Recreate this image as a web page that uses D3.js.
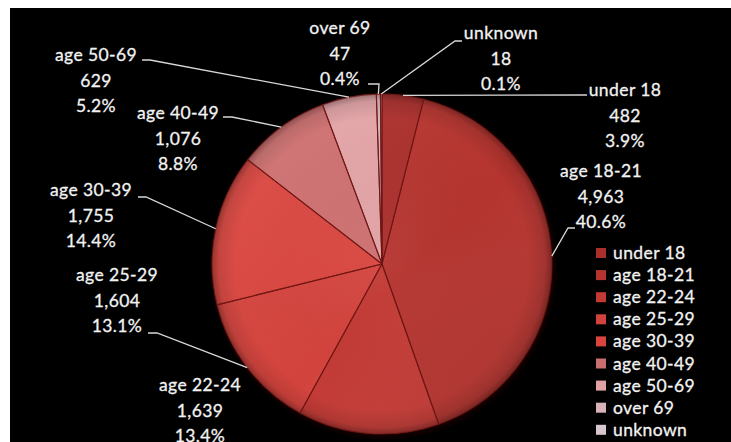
<!DOCTYPE html>
<html>
<head>
<meta charset="utf-8">
<script src="https://cdn.jsdelivr.net/npm/d3@7"></script>
<style>
  html, body { margin: 0; padding: 0; background: #ffffff; }
  svg { display: block; }
  text { font-family: Lato, "Open Sans", sans-serif; fill: #f2f2f2; stroke: #f2f2f2; stroke-width: 0.3px; }
</style>
</head>
<body>
<script>
// Age groups and counts
const categories = ["under 18", "age 18-21", "age 22-24", "age 25-29", "age 30-39",
                    "age 40-49", "age 50-69", "over 69", "unknown"];
const counts = [482, 4963, 1639, 1604, 1755, 1076, 629, 47, 18];

// Slice fills, one per age group
const sliceColors = ["#aa2e2b", "#b5342f", "#c33a35", "#d3433d", "#d9443e",
                     "#cd6e6e", "#e2a2a5", "#d8b2b8", "#d6c6ce"];

// Label placement: text centre x, first-line centre y, and leader polyline
// (start next to the text, then elbow); the last point is on the pie rim.
const labelLayout = [
  { x: 625, y: 90,  lead: [[587, 95], [587, 95]] },
  { x: 601, y: 171, lead: [[575, 228], [568, 228]] },
  { x: 200, y: 385, lead: null },
  { x: 117, y: 275, lead: [[148, 333], [157, 333]] },
  { x: 91,  y: 190, lead: [[138, 197], [146, 197]] },
  { x: 178, y: 113, lead: [[223, 117], [232, 117]] },
  { x: 96,  y: 55,  lead: [[142, 60], [150, 60]] },
  { x: 340, y: 28,  lead: [[368, 84], [379, 84]] },
  { x: 501, y: 33,  lead: [[462, 41], [455, 41]] }
];

const W = 731, H = 442;
const cx = 382, cy = 264, R = 170;
const lineGap = 25.5;
const total = d3.sum(counts);

const svg = d3.select("body").append("svg")
  .attr("width", W).attr("height", H);

// black plot area
svg.append("rect").attr("x", 10).attr("y", 8)
  .attr("width", W - 10).attr("height", H - 8).attr("fill", "#000");

const data = categories.map((c, i) => ({ name: c, value: counts[i], color: sliceColors[i], idx: i }));

const pie = d3.pie().value(d => d.value).sort(null).startAngle(0).endAngle(2 * Math.PI);
const arcs = pie(data);
const arc = d3.arc().innerRadius(0).outerRadius(R);

const defs = svg.append("defs");

// rim shading over the whole pie
const rim = defs.append("radialGradient").attr("id", "rimShade")
  .attr("cx", "50%").attr("cy", "50%").attr("r", "50%");
rim.append("stop").attr("offset", "0%").attr("stop-color", "#fff").attr("stop-opacity", 0.04);
rim.append("stop").attr("offset", "86%").attr("stop-color", "#000").attr("stop-opacity", 0);
rim.append("stop").attr("offset", "96%").attr("stop-color", "#000").attr("stop-opacity", 0.10);
rim.append("stop").attr("offset", "100%").attr("stop-color", "#000").attr("stop-opacity", 0.32);

// top-left light, bottom-right shadow
const tilt = defs.append("linearGradient").attr("id", "tilt")
  .attr("x1", "0%").attr("y1", "0%").attr("x2", "100%").attr("y2", "100%");
tilt.append("stop").attr("offset", "0%").attr("stop-color", "#fff").attr("stop-opacity", 0.08);
tilt.append("stop").attr("offset", "55%").attr("stop-color", "#fff").attr("stop-opacity", 0);
tilt.append("stop").attr("offset", "100%").attr("stop-color", "#000").attr("stop-opacity", 0.12);

// soft shadow behind the pie
const blur = defs.append("filter").attr("id", "soft").attr("x", "-10%").attr("y", "-10%")
  .attr("width", "120%").attr("height", "120%");
blur.append("feGaussianBlur").attr("stdDeviation", 3);

const g = svg.append("g").attr("transform", `translate(${cx},${cy})`);

g.append("circle").attr("r", R + 1).attr("cx", 1.5).attr("cy", 2)
  .attr("fill", "#1a0505").attr("filter", "url(#soft)");

// per-slice clip paths for the inner bevel highlight
arcs.forEach((a, i) => {
  defs.append("clipPath").attr("id", "clip" + i)
    .append("path").attr("d", arc(a)).attr("transform", `translate(${cx},${cy})`);
});

const slices = g.selectAll("g.slice").data(arcs).enter().append("g").attr("class", "slice");

slices.append("path")
  .attr("d", arc)
  .attr("fill", d => d.data.color);

// inner bevel: light band just inside each slice edge
svg.append("g").selectAll("path").data(arcs).enter().append("path")
  .attr("d", arc)
  .attr("transform", `translate(${cx},${cy})`)
  .attr("clip-path", (d, i) => `url(#clip${i})`)
  .attr("fill", "none")
  .attr("stroke", "#fff")
  .attr("stroke-opacity", 0.13)
  .attr("stroke-width", 5);

const shade = svg.append("g").attr("transform", `translate(${cx},${cy})`);
shade.append("circle").attr("r", R).attr("fill", "url(#tilt)");
shade.append("circle").attr("r", R).attr("fill", "url(#rimShade)");

// dark seams between slices
shade.selectAll("path.seam").data(arcs).enter().append("path")
  .attr("class", "seam")
  .attr("d", arc)
  .attr("fill", "none")
  .attr("stroke", "#6e1614")
  .attr("stroke-opacity", 0.85)
  .attr("stroke-width", 1.1)
  .attr("stroke-linejoin", "round");

// leader lines
const rimPoint = a => {
  const m = (a.startAngle + a.endAngle) / 2;
  return [cx + R * Math.sin(m), cy - R * Math.cos(m)];
};
const line = d3.line();
const leaders = svg.append("g");
arcs.forEach((a, i) => {
  const L = labelLayout[i];
  if (!L.lead) return;
  const pts = [L.lead[0], L.lead[1], rimPoint(a)];
  leaders.append("path").attr("d", line(pts))
    .attr("fill", "none").attr("stroke", "#d8d8d8").attr("stroke-width", 1.3);
});

// data labels: name, count, share
const fmtCount = d3.format(",");
const fmtPct = d3.format(".1%");
const labels = svg.append("g");
arcs.forEach((a, i) => {
  const L = labelLayout[i];
  const rows = [a.data.name, fmtCount(a.data.value), fmtPct(a.data.value / total)];
  rows.forEach((t, k) => {
    labels.append("text")
      .attr("x", L.x).attr("y", L.y + k * lineGap + 6)
      .attr("text-anchor", "middle")
      .attr("font-size", 17.5)
      .attr("letter-spacing", 0.4)
      .text(t);
  });
});

// legend
const legend = svg.append("g").attr("transform", "translate(596,253)");
const legendRows = legend.selectAll("g").data(data).enter().append("g")
  .attr("transform", (d, i) => `translate(0,${i * 22.1})`);
legendRows.append("rect").attr("x", 0).attr("y", -5).attr("width", 10).attr("height", 10)
  .attr("fill", d => d.color);
legendRows.append("text").attr("x", 17).attr("y", 6)
  .attr("font-size", 17.5).attr("letter-spacing", 0.4)
  .text(d => d.name);
</script>
</body>
</html>
